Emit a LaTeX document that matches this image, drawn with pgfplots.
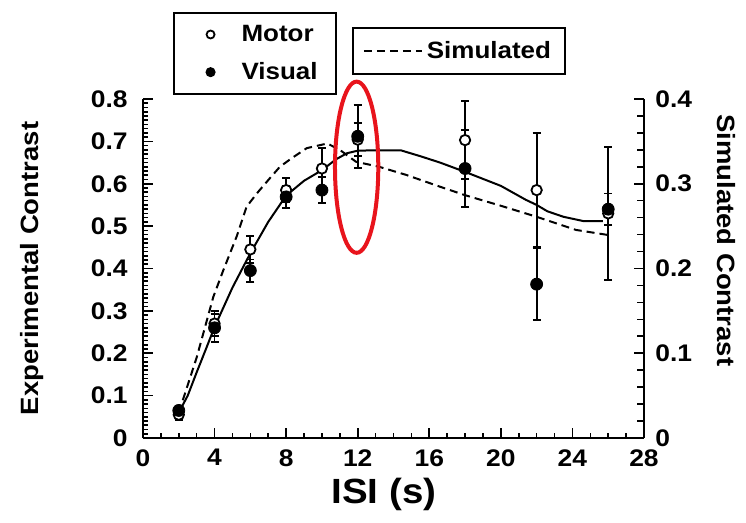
\documentclass[border=0pt]{standalone}
\usepackage{fontspec}
\setmainfont{Liberation Sans}[FakeStretch=1.1]
\usepackage{pgfplots}
\pgfplotsset{compat=1.18}
\definecolor{ringRed}{HTML}{E8141C}

\newcommand{\tickfont}{\bfseries\fontsize{12}{14}\selectfont}
\newcommand{\labfont}{\bfseries\fontsize{12.5}{15}\selectfont}
\newcommand{\legfont}{\bfseries\fontsize{11.8}{14}\selectfont}

\begin{document}
\begin{tikzpicture}
  % right axis: simulated contrast
  \begin{axis}[
    scale only axis,
    width=250.5pt, height=169.5pt,
    xmin=0, xmax=28, ymin=0, ymax=0.4,
    axis x line=none, axis y line*=right,
    axis line style={line width=1pt},
    ytick={0,0.1,0.2,0.3,0.4}, minor y tick num=4,
    major tick length=5pt, minor tick length=3.5pt,
    every tick/.style={black, line width=0.8pt},
    /pgf/number format/.cd, fixed, precision=1, assume math mode=true,
    /pgfplots/.cd,
    yticklabel style={font=\tickfont, anchor=west, inner sep=0pt, xshift=5.5pt},
    ylabel={Simulated Contrast},
    every axis y label/.style={at={(axis description cs:1.165,0.583)}, rotate=-90, anchor=center, font=\labfont},
    legend style={at={(0.417,1.212)}, anchor=north west, draw=black, line width=1pt,
      font=\legfont, inner xsep=5pt, inner ysep=4.5pt},
    legend image code/.code={\draw[#1] (0pt,0pt) -- (29pt,0pt);},
  ]
    \addplot[black, line width=1pt, dash pattern=on 4pt off 2.5pt] coordinates {
      (2,0.03) (3,0.095) (3.93,0.1665) (4.49,0.198) (5.23,0.2375) (5.79,0.273)
      (6.44,0.2905) (7.09,0.3065) (7.65,0.32) (8.3,0.33) (9.15,0.342)
      (10.3,0.3475) (11,0.34) (11.9,0.326) (13.2,0.32) (14.7,0.3105)
      (16.6,0.2965) (18,0.2865) (20,0.274) (22,0.261) (24.2,0.2455) (26,0.2395)
    };
    \addlegendentry{Simulated}
  \end{axis}

  % left axis: experimental contrast
  \begin{axis}[
    scale only axis,
    width=250.5pt, height=169.5pt,
    xmin=0, xmax=28, ymin=0, ymax=0.8,
    axis x line*=bottom, axis y line*=left,
    axis line style={line width=1pt},
    clip=false,
    xtick={0,4,8,12,16,20,24,28}, minor x tick num=3,
    ytick={0,0.1,0.2,0.3,0.4,0.5,0.6,0.7,0.8}, minor y tick num=9,
    major tick length=5pt, minor tick length=2.5pt,
    every tick/.style={black, line width=0.8pt},
    /pgf/number format/.cd, fixed, precision=1, assume math mode=true,
    /pgfplots/.cd,
    yticklabel style={font=\tickfont, anchor=east, inner sep=0pt, xshift=-7.5pt},
    xticklabel style={font=\tickfont, anchor=north, inner sep=0pt, yshift=-5.5pt},
    xlabel={ISI (s)},
    every axis x label/.style={at={(axis description cs:0.481,-0.168)}, anchor=center,
      font=\bfseries\fontsize{17.5}{20}\selectfont},
    ylabel={Experimental Contrast},
    every axis y label/.style={at={(axis description cs:-0.222,0.5)}, rotate=90, anchor=center, font=\labfont},
    legend cell align=left,
    legend style={at={(0.059,1.257)}, anchor=north west, draw=black, line width=1pt,
      font=\legfont, inner xsep=7pt, inner ysep=4pt, row sep=5pt},
    legend image code/.code={\path (0pt,-2pt) (24pt,2pt); \draw[#1] plot coordinates {(11pt,0pt)};},
    legend image post style={mark size=2pt},
    err/.style={only marks, mark=*, black,
      error bars/.cd, y dir=both, y explicit,
      error bar style={line width=0.9pt, black},
      error mark options={rotate=90, mark size=2pt, line width=0.9pt, black},
      /pgfplots/.cd},
  ]
    \addplot[black, line width=1pt, forget plot] coordinates {
      (2,0.06) (2.5,0.10) (3,0.155) (3.5,0.208) (4,0.262) (5,0.355) (6,0.436)
      (7,0.51) (8,0.572) (9,0.607) (10,0.632) (10.8,0.658) (11.4,0.672)
      (12,0.678) (13,0.679) (14.4,0.679) (15.5,0.665) (16.6,0.65) (18,0.628)
      (20,0.595) (21.4,0.562) (22,0.55) (22.6,0.535) (23.5,0.522)
      (24.6,0.512) (25.7,0.512)
    };
    \addplot[mark size=2.6pt, mark options={fill=white, draw=black, line width=0.9pt}, err]
      coordinates {
      (2,0.055) +- (0,0.012)
      (4,0.27) +- (0,0.03)
      (6,0.445) +- (0,0.032)
      (8,0.585) +- (0,0.028)
      (10,0.636) +- (0,0.048)
      (12,0.704) +- (0,0.039)
      (18,0.703) +- (0,0.092)
      (22,0.585) +- (0,0.134)
      (26,0.53) +- (0,0.157)
    };
    \addlegendentry{Motor}
    \addplot[mark size=3pt, mark options={fill=black, draw=black}, err]
      coordinates {
      (2,0.065) +- (0,0.01)
      (4,0.26) +- (0,0.033)
      (6,0.395) +- (0,0.026)
      (8,0.569) +- (0,0.026)
      (10,0.585) +- (0,0.03)
      (12,0.712) +- (0,0.074)
      (18,0.636) +- (0,0.09)
      (22,0.363) +- (0,0.085)
      (26,0.54) +- (0,0.037)
    };
    \addlegendentry{Visual}
    \draw[ringRed, line width=2pt] (axis cs:11.94,0.639) ellipse [x radius=1.21, y radius=0.202];
  \end{axis}
  \pgfresetboundingbox
  \useasboundingbox (-71.5pt,-42.5pt) rectangle (301.5pt,219pt);
\end{tikzpicture}
\end{document}
